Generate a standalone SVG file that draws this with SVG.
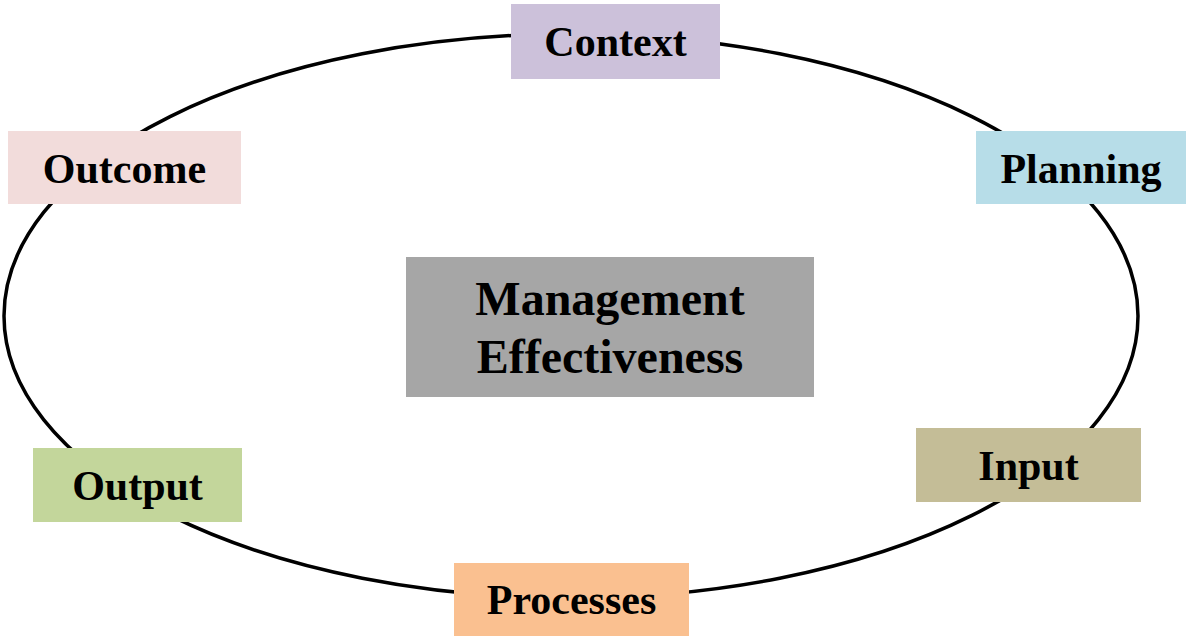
<svg xmlns="http://www.w3.org/2000/svg" width="1193" height="643" viewBox="0 0 1193 643">
<style>
.lbl{font-family:"Liberation Serif","Times New Roman",serif;font-weight:bold;font-size:42px;fill:#000;text-anchor:middle}
.big{font-size:48px}
</style>
<rect x="0" y="0" width="1193" height="643" fill="#ffffff"/>
<g id="connectors">
<ellipse cx="571" cy="316" rx="567" ry="282" fill="none" stroke="#000" stroke-width="3.5"/>
</g>
<g id="context"><rect x="511" y="4" width="209" height="75" fill="#ccc1da"/><text class="lbl" x="615.5" y="56">Context</text></g>
<g id="planning"><rect x="976" y="131" width="210" height="73" fill="#b7dde8"/><text class="lbl" x="1081" y="183">Planning</text></g>
<g id="input"><rect x="916" y="428" width="225" height="74" fill="#c4bd97"/><text class="lbl" x="1028.5" y="480">Input</text></g>
<g id="processes"><rect x="454" y="563" width="235" height="73" fill="#fac090"/><text class="lbl" x="571.5" y="614">Processes</text></g>
<g id="output"><rect x="33" y="448" width="209" height="74" fill="#c3d69b"/><text class="lbl" x="137.5" y="500">Output</text></g>
<g id="outcome"><rect x="8" y="131" width="233" height="73" fill="#f2dcdb"/><text class="lbl" x="124.5" y="183">Outcome</text></g>
<g id="management"><rect x="406" y="257" width="408" height="140" fill="#a6a6a6"/><text class="lbl big" x="610" y="315">Management</text><text class="lbl big" x="610" y="373">Effectiveness</text></g>
</svg>
